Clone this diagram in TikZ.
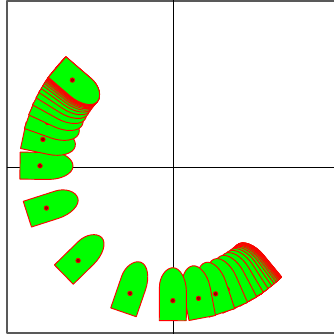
\documentclass[tikz,border=0pt]{standalone}
\newcommand{\shellshape}[1]{%
  \begin{scope}[rotate=#1]
    \draw[shellstyle] (-153.5,13.5) -- (-120,13.5)
      .. controls (-109.5,13.5) and (-100.5,7) .. (-100.5,0)
      .. controls (-100.5,-7.5) and (-112,-13.5) .. (-125,-13.5)
      -- (-153.5,-13.5) -- cycle;
    \draw[dotstyle] (-133.5,0) circle (2.3);
  \end{scope}}
\begin{document}
\begin{tikzpicture}[x=0.03cm, y=0.03cm, line join=round,
    shellstyle/.style={draw=red, fill=green, line width=0.8pt},
    dotstyle/.style={draw=red, fill=red!60!black, line width=0.6pt}]
  % canvas, origin at the axes crossing
  \useasboundingbox (-173.5,-166.8) rectangle (160.5,167.2);
  % frame
  \draw[black!65, line width=1pt] (160.5,166.2) -- (-166.5,166.2)
    -- (-166.5,-165.8) -- (160.5,-165.8);
  % axes
  \draw[line width=0.8pt] (-166.5,0) -- (160.5,0);
  \draw[line width=0.8pt] (0,-166.8) -- (0,167.2);

  % swing, drawn from the lower right end back to the upper left end
  % slow start
  \foreach \k in {24,...,4} {
    \pgfmathsetmacro\ang{44.4+85.2*(1-0.249*0.75^(\k-4))}
    \shellshape{\ang}
  }
  \foreach \r in {0.338,0.468,0.688} {
    \pgfmathsetmacro\ang{44.4+85.2*(1-\r)}
    \shellshape{\ang}
  }
  % middle
  \shellshape{44.4}
  \foreach \r in {0.688,0.472,0.338} {
    \pgfmathsetmacro\ang{44.4-85.2*(1-\r)}
    \shellshape{\ang}
  }
  % slow end
  \foreach \k in {4,...,24} {
    \pgfmathsetmacro\ang{44.4-85.2*(1-0.249*0.75^(\k-4))}
    \shellshape{\ang}
  }
\end{tikzpicture}
\end{document}
